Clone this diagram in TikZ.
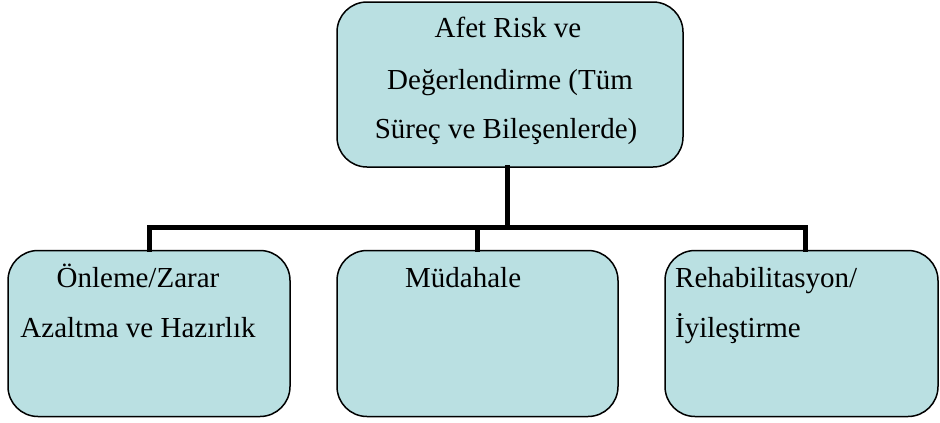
\documentclass[tikz,border=0pt]{standalone}
\usepackage{fontspec}
\setmainfont{Liberation Serif}
\definecolor{boxfill}{RGB}{186,224,226}
\begin{document}
\begin{tikzpicture}[x=1pt,y=-1pt,
  box/.style={draw=black,line width=1.5pt,fill=boxfill,rounded corners=30pt,
    minimum width=#1,minimum height=166pt,inner sep=0pt},
  conn/.style={line width=5pt,line cap=rect,line join=miter},
  txt/.style={inner sep=0pt,font=\fontsize{29}{50}\selectfont}]
\useasboundingbox (0,0) rectangle (940,423);
% boxes
\node[box=346pt,minimum height=165pt] (top) at (510,84.5) {};
\node[box=282pt] (left) at (149,333.5) {};
\node[box=281pt] (mid) at (477.5,333.5) {};
\node[box=273pt] (right) at (801.5,333.5) {};
% tree connectors
\coordinate (bar) at (0,227);
\draw[conn] ([xshift=-3pt]top.south) -- ([xshift=-3pt]top.south |- bar);
\draw[conn] (left.north) -- (left.north |- bar) -- ([xshift=4pt]right.north |- bar) -- ([xshift=4pt]right.north);
\draw[conn] (mid.north) -- (mid.north |- bar);
% labels
\node[txt,anchor=base] (t1) at (508,37) {Afet Risk ve};
\node[txt,anchor=base] (t2) at (510,89) {Değerlendirme (Tüm};
\node[txt,anchor=base] (t3) at (506,138) {Süreç ve Bileşenlerde)};
\node[txt,anchor=base] (l1) at (138,287) {Önleme/Zarar};
\node[txt,anchor=base] (l2) at (138,337) {Azaltma ve Hazırlık};
\node[txt,anchor=base west] (m1) at (405,287) {Müdahale};
\node[txt,anchor=base west] (r1) at (675,287) {Rehabilitasyon/};
\node[txt,anchor=base west] (r2) at (675,337) {İyileştirme};
\end{tikzpicture}
\end{document}
